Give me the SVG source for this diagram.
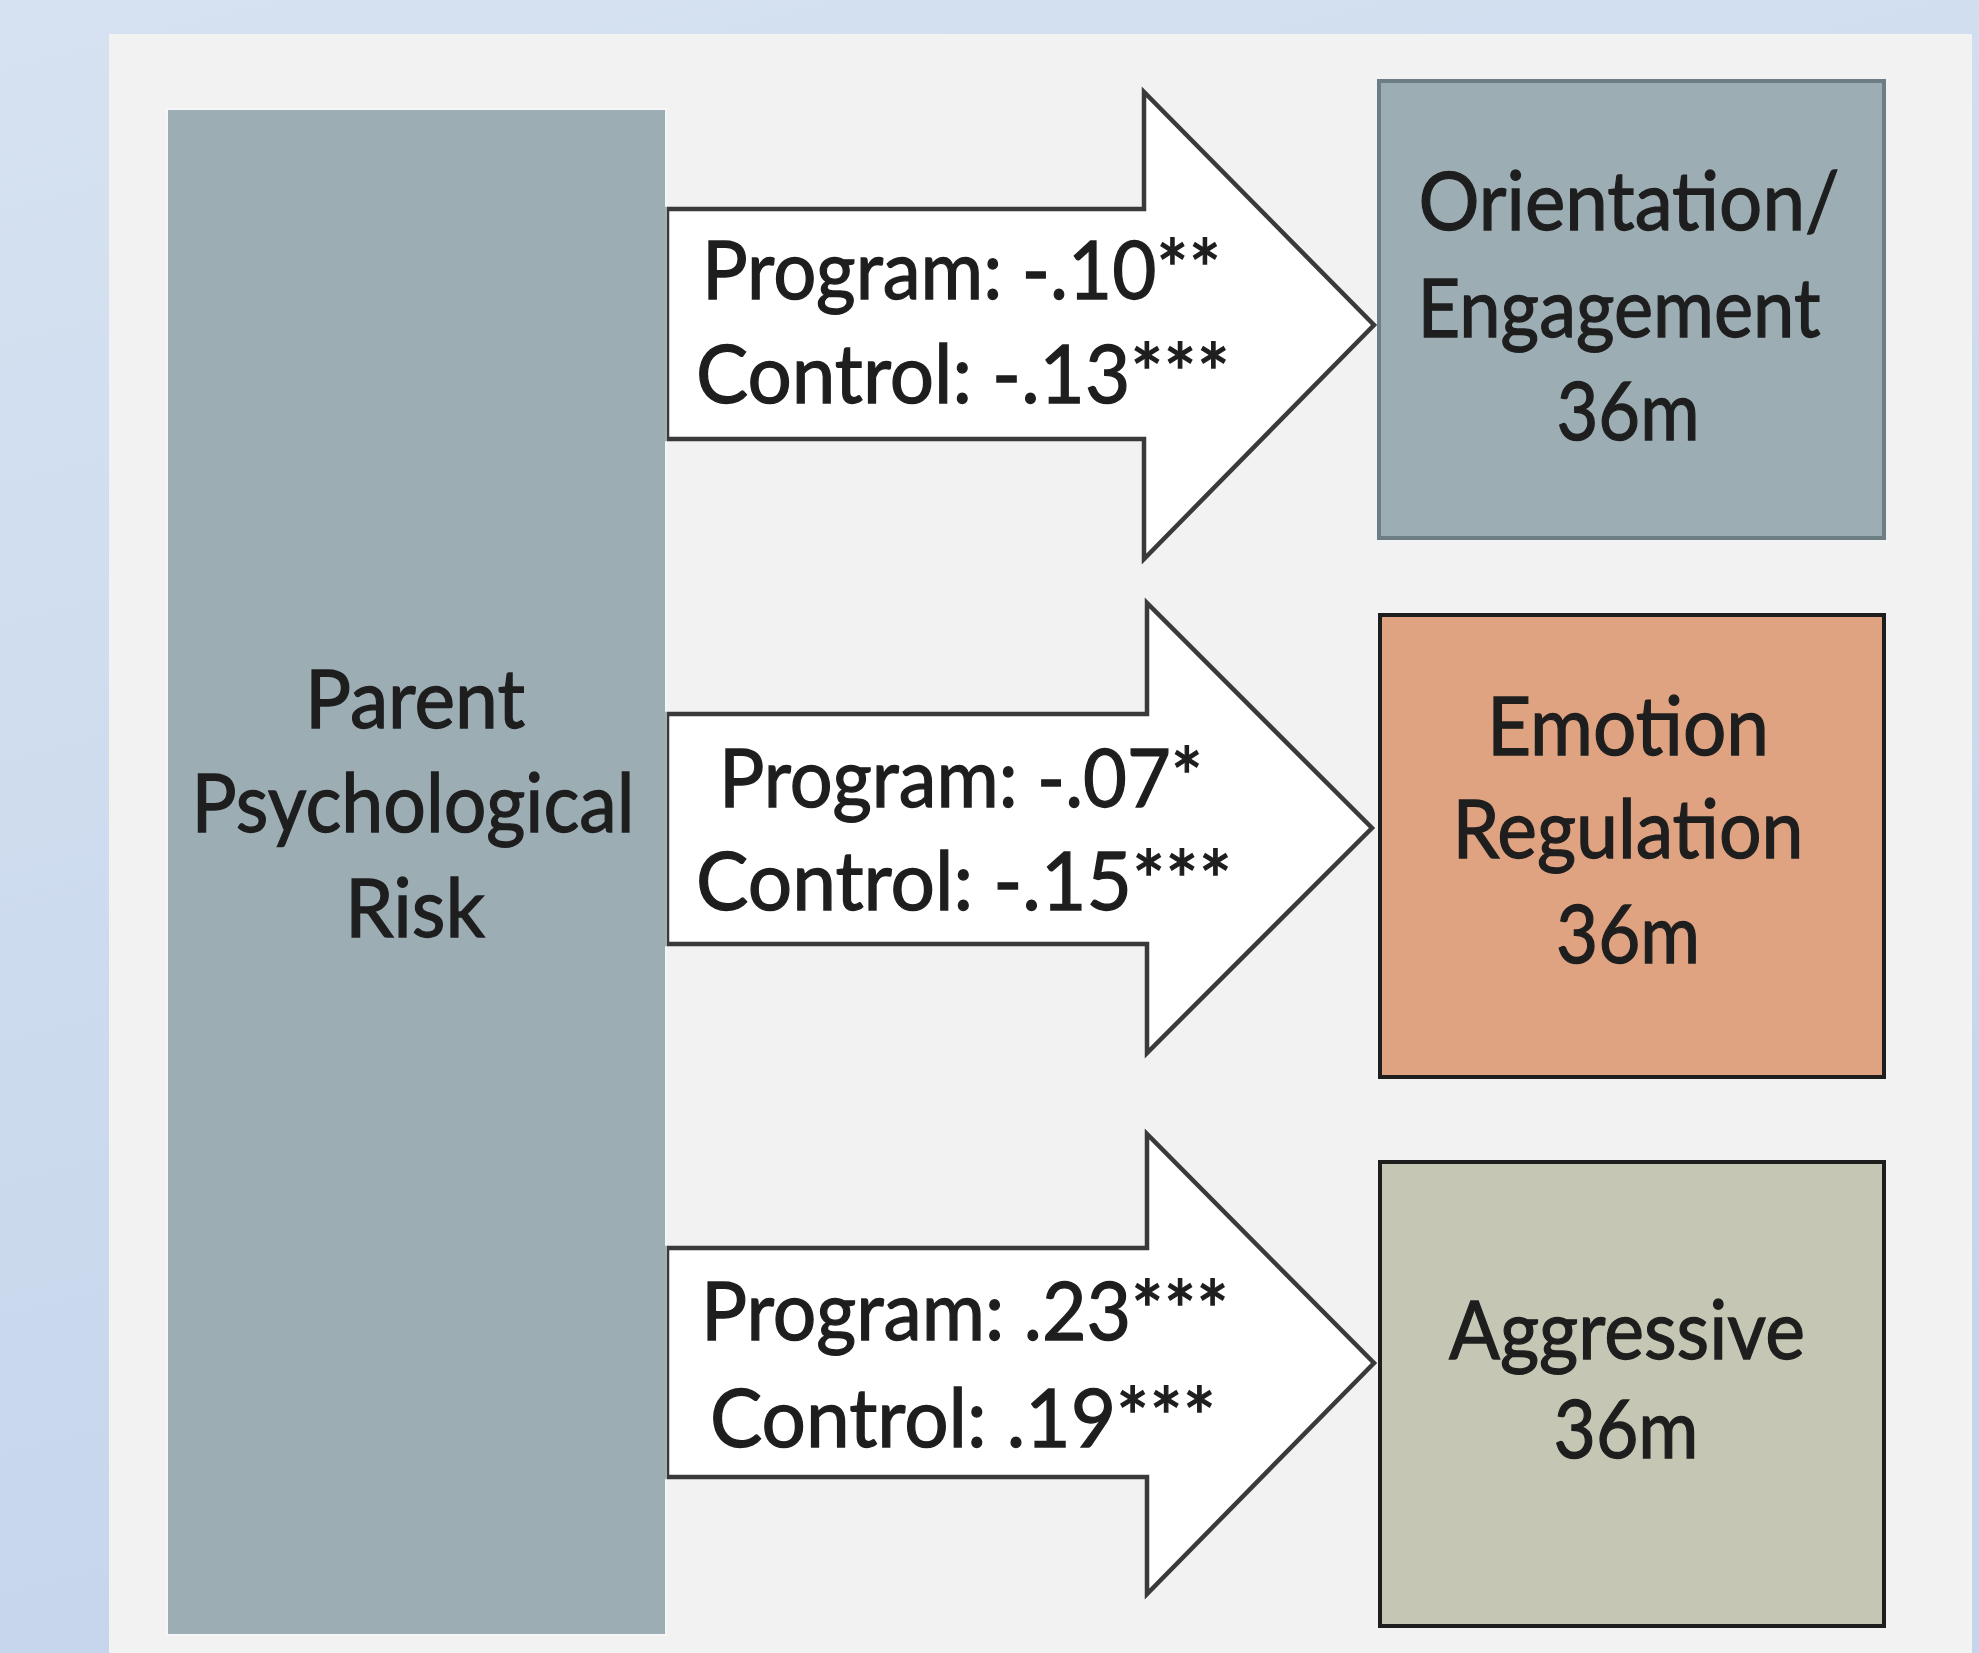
<svg xmlns="http://www.w3.org/2000/svg" width="1979" height="1653" viewBox="0 0 1979 1653">
  <defs>
    <linearGradient id="bg" x1="0" y1="0" x2="0.3" y2="1">
      <stop offset="0" stop-color="#d6e2f1"/>
      <stop offset="1" stop-color="#c6d5ec"/>
    </linearGradient>
    <style>
      .t { font-family: Lato, "Open Sans", "Liberation Sans", sans-serif; font-size: 82px; fill: #1e1e1e; stroke: #1e1e1e; stroke-width: 1.3px; }
      .c { text-anchor: middle; }
      .arrow { fill: #ffffff; stroke: #3a3a3a; stroke-width: 4.5; stroke-linejoin: miter; }
    </style>
  </defs>
  <rect x="0" y="0" width="1979" height="1653" fill="url(#bg)"/>
  <rect x="109" y="34" width="1863" height="1619" fill="#f2f2f2"/>

  <g id="connectors">
    <g id="arrow1">
      <path class="arrow" d="M667,209 H1144 V92 L1374,325 L1144,559 V439 H667 Z"/>
      <text class="t" x="702" y="299" textLength="519" lengthAdjust="spacingAndGlyphs">Program: -.10**</text>
      <text class="t" x="696" y="403" textLength="534" lengthAdjust="spacingAndGlyphs">Control: -.13***</text>
    </g>
    <g id="arrow2">
      <path class="arrow" d="M667,714 H1147 V603 L1372,828 L1147,1053 V944 H667 Z"/>
      <text class="t" x="719" y="807" textLength="484" lengthAdjust="spacingAndGlyphs">Program: -.07*</text>
      <text class="t" x="696" y="910" textLength="536" lengthAdjust="spacingAndGlyphs">Control: -.15***</text>
    </g>
    <g id="arrow3">
      <path class="arrow" d="M667,1248 H1147 V1134 L1374,1363 L1147,1594 V1477 H667 Z"/>
      <text class="t" x="701" y="1340" textLength="528" lengthAdjust="spacingAndGlyphs">Program: .23***</text>
      <text class="t" x="710" y="1447" textLength="506" lengthAdjust="spacingAndGlyphs">Control: .19***</text>
    </g>
  </g>

  <g id="parent-risk">
    <rect x="166" y="108" width="501" height="1528" fill="#f8f8f8" opacity="0.6"/>
    <rect x="168" y="110" width="497" height="1524" fill="#9caeb4"/>
    <text class="t c" x="415" y="728" textLength="220" lengthAdjust="spacingAndGlyphs">Parent</text>
    <text class="t c" x="413" y="832" textLength="443" lengthAdjust="spacingAndGlyphs">Psychological</text>
    <text class="t c" x="415" y="937" textLength="140" lengthAdjust="spacingAndGlyphs">Risk</text>
  </g>

  <g id="orientation">
    <rect x="1379" y="81" width="505" height="457" fill="#9caeb4" stroke="#6c7d84" stroke-width="4"/>
    <text class="t c" x="1629" y="230" textLength="421" lengthAdjust="spacingAndGlyphs">Orientation/</text>
    <text class="t c" x="1619" y="337" textLength="403" lengthAdjust="spacingAndGlyphs">Engagement</text>
    <text class="t c" x="1628" y="440" textLength="143" lengthAdjust="spacingAndGlyphs">36m</text>
  </g>

  <g id="emotion">
    <rect x="1380" y="615" width="504" height="462" fill="#dfa382" stroke="#1e1e1e" stroke-width="4"/>
    <text class="t c" x="1628" y="755" textLength="282" lengthAdjust="spacingAndGlyphs">Emotion</text>
    <text class="t c" x="1628" y="858" textLength="351" lengthAdjust="spacingAndGlyphs">Regulation</text>
    <text class="t c" x="1628" y="963" textLength="144" lengthAdjust="spacingAndGlyphs">36m</text>
  </g>

  <g id="aggressive">
    <rect x="1380" y="1162" width="504" height="464" fill="#c5c7b4" stroke="#1e1e1e" stroke-width="4"/>
    <text class="t c" x="1627" y="1359" textLength="356" lengthAdjust="spacingAndGlyphs">Aggressive</text>
    <text class="t c" x="1626" y="1458" textLength="145" lengthAdjust="spacingAndGlyphs">36m</text>
  </g>
</svg>
